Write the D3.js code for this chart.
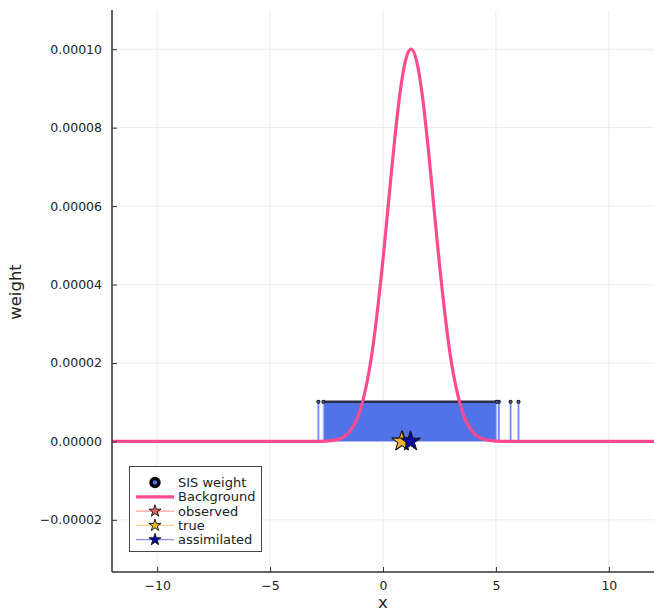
<!DOCTYPE html>
<html>
<head>
<meta charset="utf-8">
<script src="https://cdn.jsdelivr.net/npm/d3@7"></script>
<style>
  html, body { margin: 0; padding: 0; background: #fff; }
  svg { display: block; font-family: "DejaVu Sans", sans-serif; }
</style>
</head>
<body>
<svg id="chart" width="654" height="612"></svg>
<script>
// ---------- data ----------
const xTicks = [-10, -5, 0, 5, 10];
const yTicks = [-0.00002, 0, 0.00002, 0.00004, 0.00006, 0.00008, 0.00010];

// Background curve
const bgX = [-12, -3, -2.5, -2, -1.5, -1, -0.5, 0, 0.25, 0.5, 0.75, 1, 1.25, 1.5, 1.75, 2, 2.25, 2.5, 3, 3.5, 4, 4.5, 5, 5.5, 12];
const bgY = [0, 0, 9.2e-8, 5.2e-7, 2.34e-6, 8.1e-6, 2.2e-5, 4.64e-5, 6.13e-5, 7.6e-5, 8.87e-5, 9.72e-5, 1.0e-4,
             9.67e-5, 8.78e-5, 7.49e-5, 6.0e-5, 4.52e-5, 2.12e-5, 7.8e-6, 2.2e-6, 4.9e-7, 8.5e-8, 0, 0];

// SIS weights: dense particle band + isolated particles
const sisWeight = 1.01e-5;
const sisBand = [-2.64, 5.03];
const sisLone = [-2.86, 5.13, 5.65, 6.0];

// Stars
const observedX = [0.86];
const trueX = [0.83];
const assimilatedX = [1.22];

const legendLabels = ["SIS weight", "Background", "observed", "true", "assimilated"];

// ---------- layout ----------
const svg = d3.select("#chart");
const L = 112, R = 654, T = 10, B = 572;
const x = d3.scaleLinear().domain([-12, 12]).range([L, R]);
const y = d3.scaleLinear().domain([-3.33e-5, 1.1e-4]).range([B, T]);

const blue = "#5272e8";
const pink = "#ff4a8f";

// grid
const grid = svg.append("g");
grid.selectAll("line.vx").data(xTicks).join("line")
  .attr("x1", d => x(d)).attr("x2", d => x(d)).attr("y1", T).attr("y2", B)
  .attr("stroke", "#ebebeb").attr("stroke-width", 1);
grid.selectAll("line.hy").data(yTicks).join("line")
  .attr("x1", L).attr("x2", R).attr("y1", d => y(d)).attr("y2", d => y(d))
  .attr("stroke", "#ebebeb").attr("stroke-width", 1);

// SIS band
const plot = svg.append("g");
plot.append("rect")
  .attr("x", x(sisBand[0])).attr("width", x(sisBand[1]) - x(sisBand[0]))
  .attr("y", y(sisWeight)).attr("height", y(0) - y(sisWeight))
  .attr("fill", blue);
plot.selectAll("line.edge").data(sisBand).join("line")
  .attr("x1", d => x(d)).attr("x2", d => x(d)).attr("y1", y(sisWeight)).attr("y2", y(0))
  .attr("stroke", "#a9b8f4").attr("stroke-width", 1.5);
plot.append("line")
  .attr("x1", x(sisBand[0])).attr("x2", x(sisBand[1]))
  .attr("y1", y(sisWeight)).attr("y2", y(sisWeight))
  .attr("stroke", "#2a2f45").attr("stroke-width", 2.4);
plot.selectAll("line.stem").data(sisLone).join("line")
  .attr("x1", d => x(d)).attr("x2", d => x(d)).attr("y1", y(sisWeight)).attr("y2", y(0))
  .attr("stroke", "#6d8bea").attr("stroke-width", 1.8);
plot.selectAll("circle.m").data(sisLone.concat(sisBand)).join("circle")
  .attr("cx", d => x(d)).attr("cy", y(sisWeight)).attr("r", 1.5)
  .attr("fill", blue).attr("stroke", "#222").attr("stroke-width", 1.2);

// Background curve
const bgData = bgX.map((v, i) => [v, bgY[i]]);
plot.append("path")
  .datum(bgData)
  .attr("d", d3.line().x(d => x(d[0])).y(d => y(d[1])).curve(d3.curveMonotoneX))
  .attr("fill", "none").attr("stroke", pink).attr("stroke-width", 3.2);

// stars
const star = d3.symbol().type(d3.symbolStar);
function stars(xs, fill, size) {
  plot.selectAll(null).data(xs).join("path")
    .attr("transform", d => `translate(${x(d)},${y(0)})`)
    .attr("d", star.size(size)())
    .attr("fill", fill).attr("stroke", "#111").attr("stroke-width", 1);
}
stars(observedX, "#e2655c", 125);
stars(trueX, "#f0b52a", 125);
stars(assimilatedX, "#0a0aa0", 125);

// axes
const fmtY = d3.format(".5f");
const yAxis = d3.axisLeft(y).tickValues(yTicks).tickFormat(fmtY).tickSize(-5).tickPadding(10);
const xAxis = d3.axisBottom(x).tickValues(xTicks).tickFormat(d3.format("d")).tickSize(-5).tickPadding(9);
const gy = svg.append("g").attr("transform", `translate(${L},0)`).call(yAxis);
const gx = svg.append("g").attr("transform", `translate(0,${B})`).call(xAxis);
[gy, gx].forEach(g => {
  g.select(".domain").remove();
  g.selectAll(".tick line").attr("stroke", "#333").attr("stroke-width", 1);
  g.selectAll("text").attr("font-size", 12.5).attr("fill", "#222").attr("font-family", "DejaVu Sans");
});
svg.append("line").attr("x1", L).attr("x2", L).attr("y1", T).attr("y2", B)
  .attr("stroke", "#333").attr("stroke-width", 1.5);
svg.append("line").attr("x1", L).attr("x2", R).attr("y1", B).attr("y2", B)
  .attr("stroke", "#333").attr("stroke-width", 1.5);

// axis labels
svg.append("text").attr("transform", "translate(21,292) rotate(-90)")
  .attr("text-anchor", "middle").attr("font-size", 16.5).attr("fill", "#222").text("weight");
svg.append("text").attr("x", x(0)).attr("y", 608)
  .attr("text-anchor", "middle").attr("font-size", 16.5).attr("fill", "#222").text("x");

// legend
const lg = svg.append("g");
lg.append("rect").attr("x", 129.5).attr("y", 466.5).attr("width", 132).attr("height", 85)
  .attr("fill", "#fff").attr("stroke", "#444").attr("stroke-width", 1);
const ly = i => 482.5 + i * 14.3;
const lx0 = 136, lx1 = 174, lmx = 155, ltx = 178;
lg.append("circle").attr("cx", lmx).attr("cy", ly(0)).attr("r", 4)
  .attr("fill", blue).attr("stroke", "#000").attr("stroke-width", 3.4);
lg.append("line").attr("x1", lx0).attr("x2", lx1).attr("y1", ly(1)).attr("y2", ly(1))
  .attr("stroke", pink).attr("stroke-width", 3.2);
const legStars = [["#f3a09a", "#e2655c"], ["#f8d68a", "#f0b52a"], ["#8f8fe0", "#0a0aa0"]];
legStars.forEach((c, k) => {
  const i = k + 2;
  lg.append("line").attr("x1", lx0).attr("x2", lx1).attr("y1", ly(i)).attr("y2", ly(i))
    .attr("stroke", c[0]).attr("stroke-width", 1.2);
  lg.append("path").attr("transform", `translate(${lmx},${ly(i)})`)
    .attr("d", star.size(45)()).attr("fill", c[1]).attr("stroke", "#111").attr("stroke-width", 0.9);
});
lg.selectAll("text").data(legendLabels).join("text")
  .attr("x", ltx).attr("y", (d, i) => ly(i)).attr("dy", "0.35em")
  .attr("font-size", 13).attr("fill", "#222").text(d => d);
</script>
</body>
</html>
